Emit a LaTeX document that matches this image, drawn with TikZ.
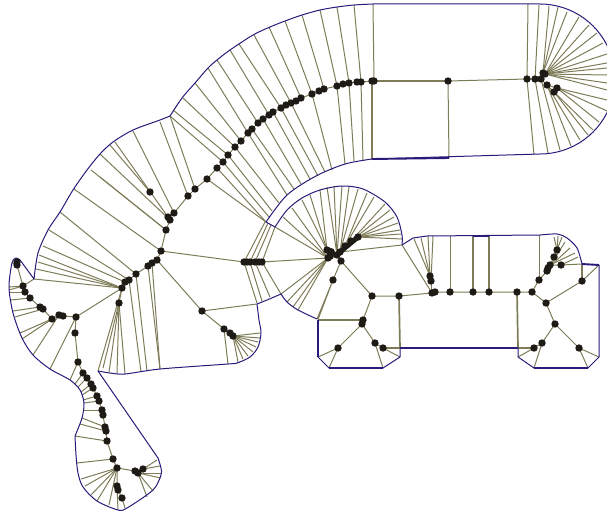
\documentclass[tikz,border=0pt]{standalone}
\definecolor{navy}{HTML}{2A1A7A}
\definecolor{olive}{HTML}{7E7C58}
\definecolor{ink}{HTML}{1E1A16}
\tikzset{
 edge/.style={draw=olive,line width=1pt},
 edgeb/.style={draw=olive,line width=1.7pt},
 rim/.style={draw=navy,line width=1pt,line join=round},
 rimb/.style={draw=navy,line width=1.9pt}
}
\begin{document}
\begin{tikzpicture}[x=1pt,y=-1pt]
\path[use as bounding box] (0,0) rectangle (607,511);
\clip (0,0) rectangle (607,511);
\foreach \n/\x/\y in {ra/527/79,rb/535/79,rc/541/79,rd/543/73,re/545/74,rf/547/85,rg/557/88,rh/554/92,m/448/81,
 t0/374/81,t1/361/82,t2/357/82,t3/349/83,t4/343/84,t5/337/86,t6/324/89,t7/319/91,t8/312/94,t9/301/98,t10/296/101,
 t11/291/103,t12/286/105,t13/281/108,t14/273/112,t15/269/115,t16/263/119,t17/258/123,t18/252/129,t19/248/133,
 t20/241/141,t21/235/147,t22/228/155,t23/223/162,t24/217/168,t25/207/179,t26/195/189,t27/188/196,t28/174/213,
 t29/168/217,t30/170/220,t31/166/230,tx/150/192,t32/161/251,t33/157/260,t34/152/263,t35/148/266,t36/136/274,
 t37/129/280,t38/125/282,t39/122/288,t40/119/303,
 l1/76/317,l2/75/333,l3/63/316,l4/59/315,l5/52/319,l6/43/309,l7/40/307,l8/30/298,l9/25/292,l10/23/286,l11/17/265,
 b1/78/362,b2/83/373,b3/87/378,b4/91/384,b5/93/388,b6/97/396,b7/99/401,b8/102/410,b9/103/415,b10/105/427,b11/106/431,
 b12/107/441,b13/113/459,b14/117/468,b15/135/471,b16/138/473,b17/143/469,b18/117/486,b19/118/490,b20/122/498,
 c1/202/311,c2/224/329,c3/230/333,c4/233/336,
 h1/244/262,h2/250/262,h3/255/262,h4/262/262,
 k1/328/258,k2/327/250,k3/337/255,k4/341/261,k5/333/280,k6/340/252,k7/345/246,k8/351/241,k9/358/237,
 n1/372/296,n2/399/296,n3/363/320,n4/362/324,n5/338/348,n6/375/343,n7/383/348,
 p1/430/276,p2/431/281,p3/432/293,p4/435/292,p5/450/292,p6/473/292,p7/489/292,p8/517/292,p9/532/292,
 q1/539/280,q2/546/303,q3/555/324,q4/542/343,q5/534/348,q6/579/348,q7/582/281,q8/561/265,q9/557/250,q10/554/257,
 q11/550/265,q12/548/268,q13/547/271}
 {\coordinate (\n) at (\x,\y);}
% skeleton chains
\draw[edge] (ra)--(rc) (rc)--(rd) (rc)--(rf)--(rh) (rf)--(rg) (ra)--(m);
\draw[edge] (t0)--(t1)--(t2)--(t3)--(t4)--(t5)--(t6)--(t7)--(t8)--(t9)--(t10)--(t11)--(t12)--(t13)--(t14)--(t15)--(t16)--(t17)--(t18)--(t19)--(t20)--(t21)--(t22)--(t23)--(t24)--(t25)--(t26)--(t27)--(t28)--(t29)--(t30)--(t31)--(t32)--(t33)--(t34)--(t35)--(t36)--(t37)--(t38)--(t39)--(t40);
\draw[edge] (t39)--(l1)--(l2)--(b1)--(b2)--(b3)--(b4)--(b5)--(b6)--(b7)--(b8)--(b9)--(b10)--(b11)--(b12)--(b13)--(b14)--(b15)--(b16) (b15)--(b17) (b14)--(b18)--(b19)--(b20);
\draw[edge] (l1)--(l3)--(l4)--(l5)--(l6)--(l7)--(l8)--(l9)--(l10)--(l11);
\draw[edge] (t32)--(h1) (h4)--(k1) (t33)--(c1)--(c2)--(c3)--(c4) (c1)--(257,304);
\draw[edge] (k4)--(k5)--(317,319) (k5)--(318,319.5) (k4)--(n1)--(n2)--(p3) (n1)--(n3)--(n4)--(n5) (n4)--(n6)--(n7);
\draw[edge] (p4)--(p9)--(q1) (p9)--(q2)--(q3)--(q6)--(599,357) (q6)--(588,368) (q3)--(q4)--(534,368) (q4)--(q5) (q2)--(q7)--(599,265) (q1)--(q13);
\draw[edge] (q5)--(518,357) (n5)--(318,357) (n5)--(329,368) (n6)--(383,368) (n7)--(400,357);
\draw[line width=1.2pt,draw=olive] (t0)--(m) (372,81)--(t0);
\draw[edge] (m)--(449,158);
\draw[edgeb] (372,159)--(372,81) (n3)--(318,320) (n7)--(400,348) (n2)--(400,348) (p8)--(518,348) (q5)--(518,348) (p6)--(473,236) (p7)--(489,236) (q7)--(582,264);
% fans
\foreach \d/\x/\y in {ra/528/4,ra/534/155,rb/539/5,rb/548/153,rc/560/150,rf/571/146,rf/580/140,rh/588/135,rh/593/130,rg/599/122,rg/607/111,rg/607/100,
 re/607/90,re/607/83,re/607/75,re/607/68,re/607/63,re/607/54,re/603/43,re/597/33,re/589/25,re/579/17,rd/567/12,rd/558/7,rd/549/6,
 t0/373/4,t1/354/5,t3/337/7,t5/320/10,t6/302/15,t8/285/21,t9/269/27,t11/254/35,t13/239/44,t15/230/50,t17/217/60,t19/208/68,t20/195/83,t21/183/98,t22/173/110,t23/170/116,
 t26/170/116,t27/160/122,t28/133/131,t29/115/142,tx/110/145,t30/100/154,t31/91/170,t31/100/177,t32/74/189,t36/60/212,t37/49/230,t38/43/246,t39/39/255,t39/38/262,t39/36/269,t39/34/279,
 t1/363/160,t3/354/161,t5/345/164,t8/332/170,t11/325/172,t13/318/176,t14/310/179,t16/301/184,t18/294/189,t19/287/195,t21/279/203,t22/272/211,t23/269/217,t24/266/222,t25/266/222,
 t40/103/368,t40/109/372,t40/117/374,t40/125/374,t37/141/372,t36/147/371,t35/160/369,t34/160/369,t39/98/371,
 l11/16/258,l11/12/263,l10/34/279,l10/9/287,l10/9/290,l9/10/292,l8/11/300,l7/13/311,l6/15/317,l5/20/333,l5/22/339,l4/33/355,l1/50/369,
 b1/70/380,b2/75/384,b3/78/387,b4/81/392,b5/82/395,b6/83/400,b7/84/403,b8/84/410,b10/82/418,b11/80/424,b12/75/436,b13/77/463,
 b14/81/479,b14/85/486,b14/91/495,b14/97/501,b14/109/505,b18/118/510,b20/125/508,
 b17/157/460,b17/160/466,b16/161/473,b16/161/478,b16/153/491,b16/147/497,
 c2/228/364,c4/238/362,c4/243/359,c4/248/356,c4/253/352,c4/256/347,c4/258/342,c4/260/338,c4/260/333,
 h1/265/222,h2/268/223,h3/271/225,h4/275/227,h1/257/303,h2/262/301,h3/270/297,h4/281/294,
 k1/275/227,k1/283/217,k1/292/208,k2/302/200,k2/310/195,k2/320/190,k3/327/187,k3/334/186,k3/342/186,k6/349/187,k6/358/189,k7/367/193,k7/374/197,k8/385/204,k8/390/210,k9/394/217,k9/398/223,k9/400/230,k9/401/234,k9/402/239,k6/402/245,
 k1/281/294,k1/287/302,k1/293/307,k1/298/310,
 p1/414/239,p1/421/238,p1/428/236,p2/433/236,p3/402/245,p5/450/236,
 q1/539/235,q9/554/237,q9/558/236,q9/562/237,q13/565/242,q12/570/248,q11/575/253,q8/578/257,q8/582/264}
{\draw[edge] (\d)--(\x,\y);}
\draw[edge] (k1)--(k9) (k2)--(k1)--(k3) (k3)--(k4) (p1)--(p2)--(p3);
\draw[edge] (q9)--(q10)--(q11)--(q13) (q8)--(q11);
% outline
\draw[rim] plot[smooth] coordinates {(170,116)(182,98)(195,83)(208,68)(217,60)(230,50)(253,35)(270,27)(285,21)(302,15)(320,10)(337,7)(354,5)(373,4)} -- (540,4);
\draw[rim] plot[domain=-90:90,samples=41] ({540+75*cos(\x)},{79+75*sin(\x)}) -- (372,159);
\draw[rim] plot[smooth] coordinates {(170,116)(160,120)(133,130)(113,142)(100,154)(87,170)(73,190)(60,212)(48,230)(38,253)(34,279)} -- (20,260);
\draw[rim] plot[smooth] coordinates {(20,260)(16,258)(12,263)(9,287)(13,313)(22,338)(33,355)(50,369)(70,380)(80,390)(84,403)(82,418)(75,436)};
\draw[rim] plot[smooth] coordinates {(75,436)(76,455)(78,473)(83,487)(97,501)(118,510)(127,508)(153,490)(161,475)(161,468)(158,458)} -- (98,371);
\draw[rim] plot[smooth] coordinates {(98,371)(110,373)(125,374)(160,369)(228,364)(237,363)(250,357)(258,347)(261,333)(259,320)(257,304)};
\draw[rim] plot[smooth] coordinates {(257,304)(267,300)(281,294)};
\draw[rim] plot[smooth] coordinates {(281,294)(287,302)(298,310)(317,319)};
\draw[rim] (318,357)--(329,368) (383,368)--(400,357)--(400,348) (518,348)--(518,357)--(534,368) (588,368)--(599,357)--(599,265);
\draw[rimb] (318,320)--(318,357) (329,368)--(383,368) (400,348)--(518,348) (534,368)--(588,368) (599,265)--(582,264) (372,159)--(449,158) (473,236)--(489,236);
\draw[rim] plot[smooth] coordinates {(582,264)(577,248)(567,238)(557,234)(540,235)} -- (427,236) -- (420,237) -- (413,238) -- (402,245);
\draw[rim] plot[smooth] coordinates {(402,245)(402,235)(397,217)(385,202)(363,189)(342,186)(320,190)(302,198)(287,210)(275,227)} -- (266,222);
\draw[rim] plot[smooth] coordinates {(266,222)(287,195)(316,176)(345,164)(372,159)};
% dots
\foreach \n in {ra,rb,rc,rd,re,rf,rg,rh,m,t0,t1,t2,t3,t4,t5,t6,t7,t8,t9,t10,t11,t12,t13,t14,t15,t16,t17,t18,t19,t20,t21,t22,t23,t24,t25,t26,t27,t28,t29,t30,t31,tx,t32,t33,t34,t35,t36,t37,t38,t39,t40,
 l1,l2,l3,l4,l5,l6,l7,l8,l9,l10,l11,b1,b2,b3,b4,b5,b6,b7,b8,b9,b10,b11,b12,b13,b14,b15,b16,b17,b18,b19,b20,c1,c2,c3,c4,h1,h2,h3,h4,k1,k2,k3,k4,k5,k6,k7,k8,k9,
 n1,n2,n3,n4,n5,n6,n7,p1,p2,p3,p4,p5,p6,p7,p8,p9,q1,q2,q3,q4,q5,q6,q7,q8,q9,q10,q11,q12,q13}
 {\fill[ink] (\n) circle (3.7pt);}
\fill[ink] (372,81) circle (3.7pt) (17,262) circle (3.7pt) (247,262) circle (3.7pt) (259,262) circle (3.7pt) (331,252) circle (4pt) (330,256) circle (4pt);
\draw[ink,line width=5pt,line cap=round] (k3)--(k6)--(k9);
\end{tikzpicture}
\end{document}
